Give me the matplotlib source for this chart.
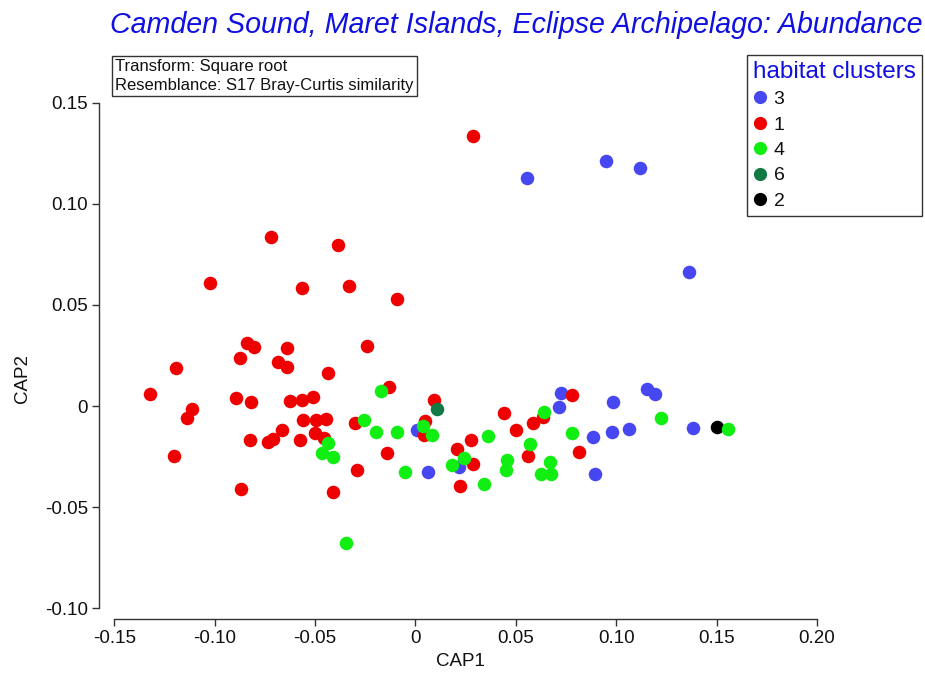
import numpy as np
import matplotlib
matplotlib.use("Agg")
import matplotlib.pyplot as plt
from matplotlib.lines import Line2D

# -------------------------------------------------------------
# CAP ordination scores per habitat cluster
# -------------------------------------------------------------
cap1_c1 = [-0.0720, -0.0384, -0.1023, -0.0565, -0.0333, -0.0091, -0.0841, -0.0804,
           -0.0641, -0.0240, -0.0874, -0.0683, -0.0638, -0.1194, -0.0437, -0.1322,
           -0.0894, -0.0819, -0.0625, -0.0567, -0.0510, -0.0130, -0.1113, -0.1136,
           -0.0560, -0.0496, -0.0446, -0.0301, -0.0666, -0.0824, -0.0736, -0.0708,
           -0.0573, -0.0500, -0.0456, -0.1204, -0.0144, -0.0290, -0.0871, -0.0409,
           0.0092, 0.0047, 0.0042, 0.0441, 0.0500, 0.0584, 0.0633, 0.0781,
           0.0816, 0.0205, 0.0275, 0.0288, 0.0222, 0.0559, 0.0289]
cap2_c1 = [0.0838, 0.0797, 0.0610, 0.0583, 0.0596, 0.0528, 0.0314, 0.0294,
           0.0286, 0.0299, 0.0236, 0.0217, 0.0195, 0.0188, 0.0164, 0.0061,
           0.0042, 0.0019, 0.0025, 0.0030, 0.0043, 0.0092, -0.0014, -0.0059,
           -0.0069, -0.0069, -0.0065, -0.0082, -0.0118, -0.0166, -0.0176, -0.0165,
           -0.0166, -0.0135, -0.0160, -0.0248, -0.0233, -0.0316, -0.0412, -0.0425,
           0.0030, -0.0074, -0.0145, -0.0036, -0.0118, -0.0085, -0.0052, 0.0057,
           -0.0226, -0.0212, -0.0168, -0.0288, -0.0394, -0.0245, 0.1336]

cap1_c3 = [0.0554, 0.0947, 0.1120, 0.1362, 0.0726, 0.0715, 0.0982, 0.1154, 0.1193,
           0.1380, 0.1063, 0.0980, 0.0882, 0.0894, 0.0006, 0.0063, 0.0217]
cap2_c3 = [0.1128, 0.1211, 0.1178, 0.0663, 0.0063, -0.0003, 0.0019, 0.0083, 0.0058,
           -0.0107, -0.0113, -0.0127, -0.0151, -0.0336, -0.0118, -0.0326, -0.0300]

cap1_c4 = [-0.0173, -0.0256, -0.0197, -0.0094, -0.0434, -0.0467, -0.0409, -0.0051,
           -0.0346, 0.0039, 0.0081, 0.0363, 0.0638, 0.0780, 0.0570, 0.0242,
           0.0180, 0.0343, 0.0457, 0.0449, 0.0670, 0.0623, 0.0673, 0.1221, 0.1558]
cap2_c4 = [0.0075, -0.0067, -0.0130, -0.0127, -0.0181, -0.0233, -0.0250, -0.0326,
           -0.0676, -0.0097, -0.0144, -0.0146, -0.0031, -0.0131, -0.0187, -0.0255,
           -0.0291, -0.0385, -0.0267, -0.0316, -0.0275, -0.0336, -0.0336, -0.0057, -0.0113]

cap1_c6 = [0.0109]
cap2_c6 = [-0.0014]

cap1_c2 = [0.1503]
cap2_c2 = [-0.0102]

legend_order = ["3", "1", "4", "6", "2"]
cluster_colors = {"3": "#4747f2", "1": "#ee0000", "4": "#11ee11", "6": "#117a45", "2": "#000000"}

xticks = [-0.15, -0.10, -0.05, 0, 0.05, 0.10, 0.15, 0.20]
xtick_labels = ["-0.15", "-0.10", "-0.05", "0", "0.05", "0.10", "0.15", "0.20"]
yticks = [-0.10, -0.05, 0, 0.05, 0.10, 0.15]
ytick_labels = ["-0.10", "-0.05", "0", "0.05", "0.10", "0.15"]

# -------------------------------------------------------------
# Figure
# -------------------------------------------------------------
plt.rcParams['font.family'] = ['Liberation Sans', 'DejaVu Sans']
W, H = 925, 675
fig = plt.figure(figsize=(W / 100, H / 100), dpi=100)
ax = fig.add_axes([114.3 / W, 1 - 608.3 / H, (817 - 114.3) / W, (608.3 - 102.7) / H])

msize = 95
ax.scatter(cap1_c2, cap2_c2, s=msize, c=cluster_colors["2"], linewidths=0, zorder=2)
ax.scatter(cap1_c3, cap2_c3, s=msize, c=cluster_colors["3"], linewidths=0, zorder=2)
ax.scatter(cap1_c1, cap2_c1, s=msize, c=cluster_colors["1"], linewidths=0, zorder=2)
ax.scatter(cap1_c4, cap2_c4, s=msize, c=cluster_colors["4"], linewidths=0, zorder=2)
ax.scatter(cap1_c6, cap2_c6, s=msize, c=cluster_colors["6"], linewidths=0, zorder=2)

ax.set_xlim(-0.15, 0.20)
ax.set_ylim(-0.10, 0.15)

# detached axis lines, PRIMER style
for side in ["top", "right"]:
    ax.spines[side].set_visible(False)
ax.spines["left"].set_position(("outward", 15 * 0.72))
ax.spines["bottom"].set_position(("outward", 11 * 0.72))
for side in ["left", "bottom"]:
    ax.spines[side].set_color("#333333")
    ax.spines[side].set_linewidth(1.0)

ax.set_xticks(xticks)
ax.set_xticklabels(xtick_labels)
ax.set_yticks(yticks)
ax.set_yticklabels(ytick_labels)
ax.tick_params(axis="both", direction="out", length=5, width=1.0, color="#333333",
               labelsize=13.5, labelcolor="#111111", pad=3)

fig.text(460 / W, 1 - 662 / H, "CAP1", fontsize=13.5, color="#111111", ha="center", va="center")
fig.text(22 / W, 1 - 378 / H, "CAP2", fontsize=13.5, color="#111111", ha="center", va="center",
         rotation=90)

# title
fig.text(923 / W, 1 - 25 / H, "Camden Sound, Maret Islands, Eclipse Archipelago: Abundance",
         fontsize=20.6, style="italic", color="#1010e0", ha="right", va="center")

# transform / resemblance note
fig.text(115 / W, 1 - 59 / H, "Transform: Square root\nResemblance: S17 Bray-Curtis similarity",
         fontsize=12, color="#111111", ha="left", va="top", linespacing=1.3,
         bbox=dict(boxstyle="square,pad=0.2", facecolor="white", edgecolor="#333333", linewidth=1.0))

# legend
handles = [Line2D([], [], linestyle="none", marker="o", markersize=9.5,
                  markerfacecolor=cluster_colors[k], markeredgewidth=0) for k in legend_order]
leg = fig.legend(handles, legend_order, loc="upper right",
                 bbox_to_anchor=(922 / W, 1 - 55 / H), bbox_transform=fig.transFigure,
                 title="habitat clusters", title_fontsize=17.5, fontsize=14,
                 alignment="left", frameon=True, fancybox=False, framealpha=1,
                 handlelength=0.7, handletextpad=0.35, labelspacing=0.4,
                 borderpad=0.3, borderaxespad=0)
leg.get_title().set_color("#1010e0")
leg.get_frame().set_edgecolor("#333333")
leg.get_frame().set_linewidth(1.0)
for t in leg.get_texts():
    t.set_color("#111111")

fig.savefig("out.png", dpi=100)
